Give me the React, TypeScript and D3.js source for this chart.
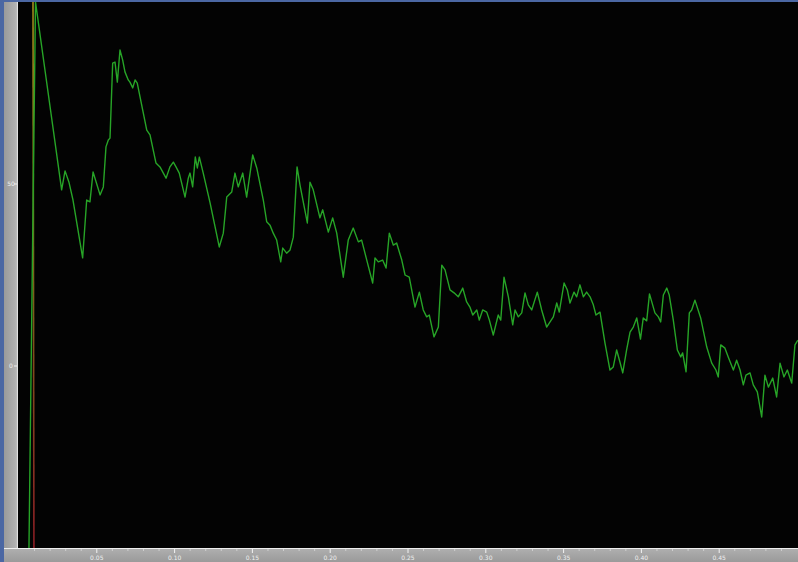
import React from "react";
import * as d3 from "d3";

const time = [
  0.0064, 0.0077, 0.0106, 0.0274, 0.0296, 0.0321, 0.0347, 0.0409, 0.0435, 0.0456,
  0.0476, 0.0521, 0.0542, 0.0559, 0.0574, 0.0585, 0.0602, 0.0617, 0.0632, 0.0649,
  0.0666, 0.0681, 0.0702, 0.0713, 0.0731, 0.0746, 0.0760, 0.0799, 0.0821, 0.0842,
  0.0880, 0.0906, 0.0945, 0.0970, 0.0992, 0.1009, 0.1030, 0.1067, 0.1088, 0.1099,
  0.1116, 0.1133, 0.1146, 0.1159, 0.1184, 0.1228, 0.1287, 0.1313, 0.1335, 0.1367,
  0.1388, 0.1409, 0.1438, 0.1463, 0.1502, 0.1528, 0.1570, 0.1592, 0.1613, 0.1634,
  0.1656, 0.1682, 0.1695, 0.1720, 0.1742, 0.1763, 0.1787, 0.1806, 0.1853, 0.1870,
  0.1891, 0.1934, 0.1952, 0.1988, 0.2016, 0.2042, 0.2084, 0.2116, 0.2148, 0.2181,
  0.2202, 0.2235, 0.2273, 0.2288, 0.2309, 0.2337, 0.2359, 0.2380, 0.2406, 0.2427,
  0.2460, 0.2481, 0.2508, 0.2545, 0.2573, 0.2598, 0.2620, 0.2637, 0.2667, 0.2695,
  0.2717, 0.2738, 0.2770, 0.2796, 0.2823, 0.2852, 0.2877, 0.2898, 0.2916, 0.2942,
  0.2958, 0.2980, 0.3006, 0.3023, 0.3048, 0.3080, 0.3096, 0.3117, 0.3145, 0.3173,
  0.3188, 0.3209, 0.3231, 0.3252, 0.3273, 0.3295, 0.3331, 0.3359, 0.3391, 0.3413,
  0.3434, 0.3456, 0.3472, 0.3503, 0.3524, 0.3541, 0.3567, 0.3584, 0.3605, 0.3627,
  0.3648, 0.3670, 0.3691, 0.3708, 0.3734, 0.3766, 0.3798, 0.3819, 0.3841, 0.3862,
  0.3880, 0.3905, 0.3927, 0.3948, 0.3970, 0.3994, 0.4012, 0.4034, 0.4052, 0.4087,
  0.4109, 0.4124, 0.4141, 0.4163, 0.4179, 0.4205, 0.4231, 0.4253, 0.4265, 0.4287,
  0.4308, 0.4323, 0.4344, 0.4381, 0.4420, 0.4452, 0.4479, 0.4494, 0.4510, 0.4537,
  0.4558, 0.4591, 0.4612, 0.4634, 0.4655, 0.4672, 0.4698, 0.4719, 0.4745, 0.4773,
  0.4794, 0.4816, 0.4844, 0.4869, 0.4891, 0.4916, 0.4938, 0.4966, 0.4987, 0.5006,
];

const signal = [
  -50.0, -3.8, 100.0, 48.4, 53.6, 50.5, 45.6, 29.7, 45.6, 45.1,
  53.3, 47.0, 49.2, 60.2, 62.1, 62.6, 83.2, 83.5, 78.0, 86.8,
  84.1, 80.8, 78.6, 78.0, 76.4, 78.6, 77.7, 69.5, 64.8, 63.5,
  55.8, 54.7, 51.6, 54.7, 56.0, 54.7, 53.0, 46.4, 51.6, 53.0,
  49.2, 57.4, 54.4, 57.4, 53.0, 44.8, 32.7, 36.5, 46.4, 47.8,
  53.0, 49.2, 53.0, 46.4, 58.0, 54.4, 45.6, 39.6, 38.7, 36.5,
  34.6, 28.6, 32.4, 31.0, 31.9, 35.4, 54.7, 49.7, 39.3, 50.5,
  48.4, 40.7, 42.9, 36.8, 40.7, 36.5, 24.4, 34.6, 37.9, 34.1,
  34.6, 29.1, 22.8, 29.7, 28.6, 29.1, 26.9, 36.5, 33.2, 33.8,
  29.1, 25.0, 24.4, 16.2, 20.3, 15.4, 13.5, 14.0, 8.0, 10.7,
  27.7, 26.4, 20.9, 20.1, 19.0, 21.4, 17.6, 16.2, 14.0, 15.4,
  12.6, 15.4, 14.8, 12.6, 8.5, 14.0, 12.6, 24.4, 19.0, 11.3,
  15.4, 13.5, 14.6, 20.1, 16.8, 15.4, 20.3, 15.4, 10.7, 12.1,
  13.5, 17.3, 14.8, 22.8, 20.9, 17.3, 20.3, 19.0, 22.3, 19.0,
  20.3, 19.0, 16.8, 14.0, 14.8, 6.3, -1.1, -0.3, 4.4, 1.1,
  -1.9, 4.4, 9.3, 10.7, 13.2, 7.4, 13.2, 12.4, 19.8, 14.6,
  13.5, 12.1, 19.5, 21.4, 19.5, 12.6, 4.4, 2.5, 3.6, -1.6,
  14.6, 15.4, 18.1, 13.2, 5.2, 0.8, -1.1, -3.0, 5.8, 4.9,
  2.5, -1.1, 1.6, -1.1, -5.2, -2.5, -1.9, -5.2, -7.1, -14.0,
  -2.5, -5.8, -3.3, -8.5, 0.8, -3.0, -1.1, -4.7, 5.8, 7.1,
];

const refTime = [0.0096, 0.009];
const refValue = [-50, 100];

const xTicks = [0.05, 0.1, 0.15, 0.2, 0.25, 0.3, 0.35, 0.4, 0.45];
const yTicks = [0, 50];

const W = 798;
const H = 562;
const plotLeft = 18;
const plotTop = 2;
const plotBottom = 548;

export default function App() {
  const x = d3.scaleLinear().domain([0, 0.5]).range([19, 797]);
  const y = d3.scaleLinear().domain([-50, 100]).range([548, 2]);

  const greenPts: [number, number][] = time.map((t, i) => [t, signal[i]]);
  const redPts: [number, number][] = refTime.map((t, i) => [t, refValue[i]]);
  const line = d3
    .line<[number, number]>()
    .x((d) => x(d[0]))
    .y((d) => y(d[1]))
    .curve(d3.curveLinear);

  const minorTicks = d3.range(0.01, 0.5, 0.01).filter(
    (v) => !xTicks.some((t) => Math.abs(t - v) < 1e-6)
  );

  return (
    <svg
      width={W}
      height={H}
      style={{ position: "absolute", left: 0, top: 0, display: "block" }}
      fontFamily="DejaVu Sans, sans-serif"
    >
      <defs>
        <linearGradient id="leftStrip" x1="0" x2="1" y1="0" y2="0">
          <stop offset="0" stopColor="#9a9a9a" />
          <stop offset="0.8" stopColor="#b0b0b0" />
          <stop offset="1" stopColor="#c4c4c4" />
        </linearGradient>
        <linearGradient id="bottomStrip" x1="0" x2="0" y1="0" y2="1">
          <stop offset="0" stopColor="#b0b0b0" />
          <stop offset="1" stopColor="#9a9a9a" />
        </linearGradient>
        <linearGradient id="refGrad" x1="0" x2="0" y1="0" y2="1">
          <stop offset="0" stopColor="#a08a1c" />
          <stop offset="0.45" stopColor="#7a6a18" />
          <stop offset="1" stopColor="#8c1c24" />
        </linearGradient>
        <clipPath id="plotClip">
          <rect x={plotLeft} y={plotTop} width={W - plotLeft} height={plotBottom - plotTop} />
        </clipPath>
      </defs>

      {/* window frame */}
      <rect x={0} y={0} width={W} height={H} fill="#4b67a3" />
      <rect x={4} y={2} width={14} height={H - 2} fill="url(#leftStrip)" />
      <line x1={17.5} x2={17.5} y1={2} y2={plotBottom} stroke="#e0e0e0" strokeWidth={1} />
      <rect x={4} y={plotBottom} width={W - 4} height={H - plotBottom} fill="url(#bottomStrip)" />
      <line x1={4} x2={W} y1={plotBottom + 0.5} y2={plotBottom + 0.5} stroke="#eeeeee" strokeWidth={1.2} />

      {/* plot area */}
      <rect x={plotLeft} y={plotTop} width={W - plotLeft} height={plotBottom - plotTop} fill="#030303" />

      <g clipPath="url(#plotClip)">
        <path d={line(redPts) ?? ""} fill="none" stroke="url(#refGrad)" strokeWidth={1.6} />
        <path
          d={line(greenPts) ?? ""}
          fill="none"
          stroke="#27a427"
          strokeWidth={1.4}
          strokeLinejoin="round"
        />
      </g>

      {/* x axis ticks */}
      <g>
        {minorTicks.map((v) => (
          <line
            key={"m" + v}
            x1={x(v)}
            x2={x(v)}
            y1={plotBottom + 1}
            y2={plotBottom + 3}
            stroke="#d8d8d8"
            strokeWidth={0.8}
          />
        ))}
        {xTicks.map((v) => (
          <g key={"t" + v}>
            <line
              x1={x(v)}
              x2={x(v)}
              y1={plotBottom + 1}
              y2={plotBottom + 5}
              stroke="#f2f2f2"
              strokeWidth={1}
            />
            <text
              x={x(v)}
              y={H - 2}
              fontSize={6}
              fill="#f0f0f0"
              textAnchor="middle"
            >
              {d3.format(".2f")(v)}
            </text>
          </g>
        ))}
      </g>

      {/* y axis labels */}
      <g>
        {yTicks.map((v) => (
          <g key={"y" + v}>
            <line x1={14} x2={17} y1={y(v)} y2={y(v)} stroke="#f2f2f2" strokeWidth={1} />
            <text x={11} y={y(v) + 2} fontSize={6} fill="#f0f0f0" textAnchor="middle">
              {v}
            </text>
          </g>
        ))}
      </g>
    </svg>
  );
}
